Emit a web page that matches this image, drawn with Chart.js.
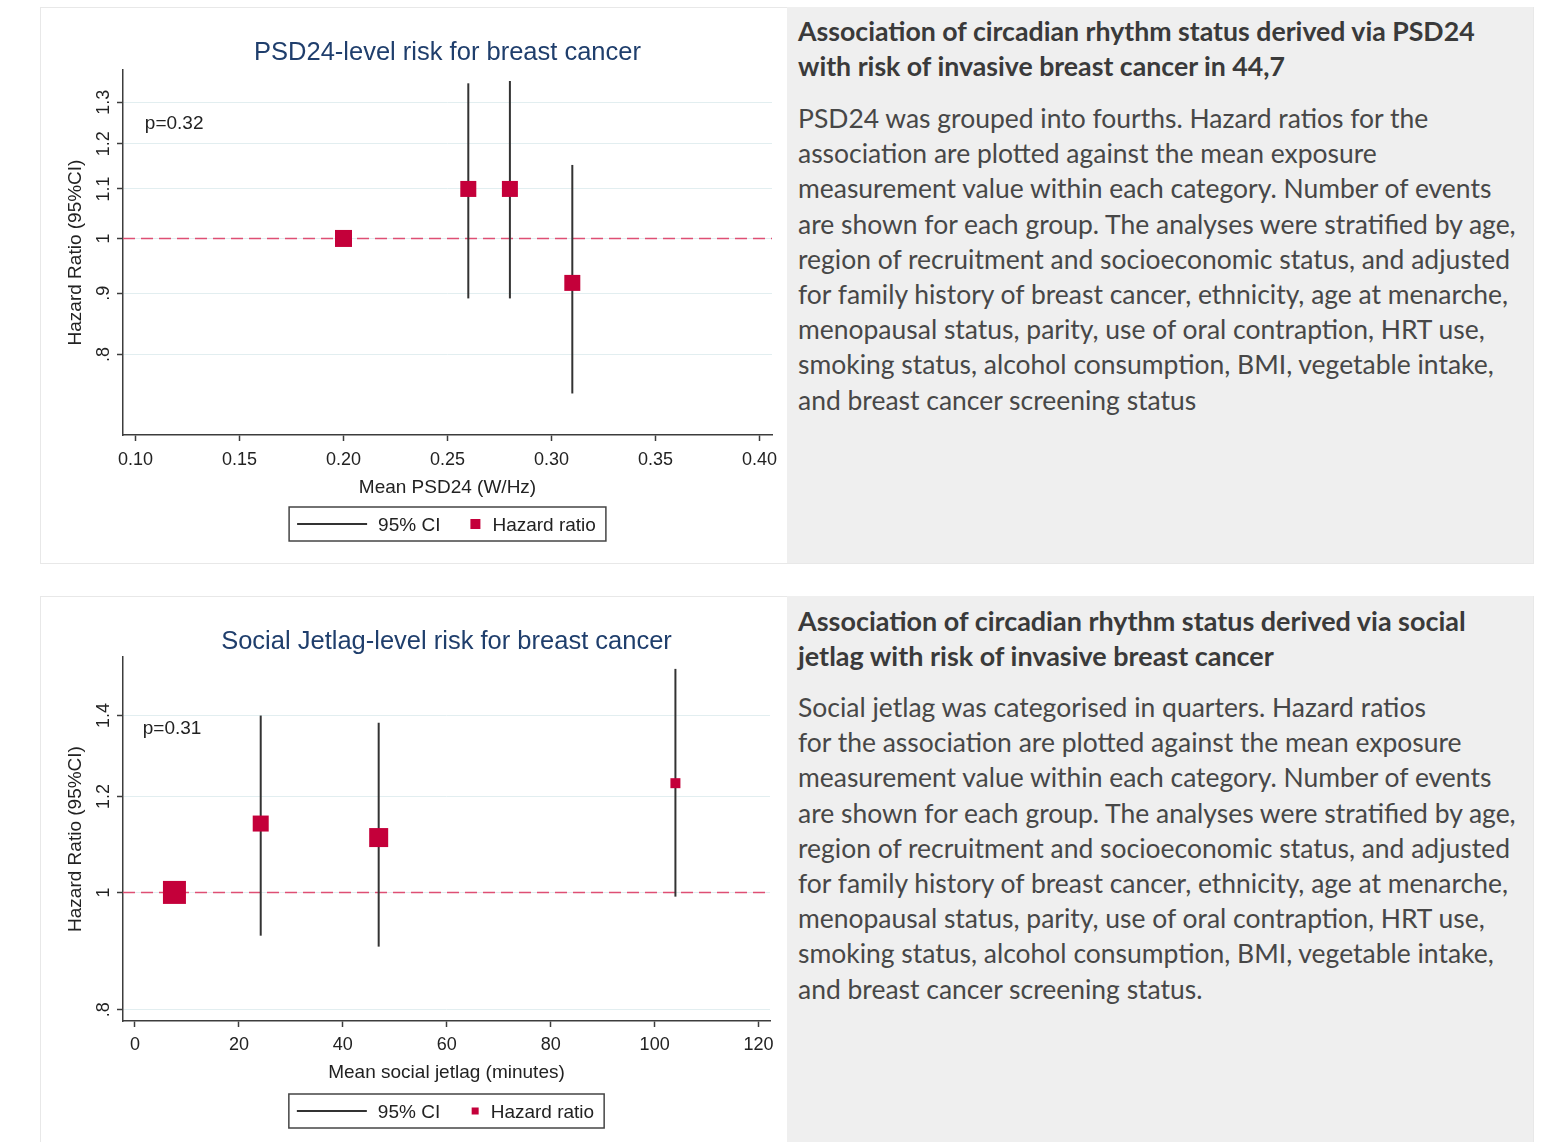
<!DOCTYPE html>
<html>
<head>
<meta charset="utf-8">
<script src="https://cdn.jsdelivr.net/npm/chart.js@4.4.1/dist/chart.umd.min.js"></script>
<style>
  html, body { margin: 0; padding: 0; background: #fff; }
  body { position: relative; width: 1547px; height: 1142px; overflow: hidden; }
  .row { position: absolute; left: 40px; width: 1494px; height: 557px; border: 1px solid #e8e8e8; box-sizing: border-box; }
  .plot { position: absolute; left: 40px; }
  .caption { position: absolute; left: 787px; width: 746px; height: 556px; background: #efefef; color: #474747; font-family: Lato, 'Open Sans', sans-serif; }
  .caption .head { position: absolute; left: 11px; top: 7px; font-weight: bold; line-height: 35px; color: #3a3a3a; white-space: nowrap; font-size: 26px; }
  .caption .body { position: absolute; left: 11px; top: 94px; line-height: 35.2px; white-space: nowrap; font-size: 26px; }
</style>
</head>
<body>

<div class="row" style="top:7px"></div>
<canvas id="psdChart" class="plot" width="747" height="556" style="top:7px"></canvas>
<div class="caption" style="top:7px">
  <div class="head" data-fit="677">
    <span>Association of circadian rhythm status derived via PSD24</span><br>
    <span>with risk of invasive breast cancer in 44,7</span>
  </div>
  <div class="body" data-fit="718">
    <span>PSD24 was grouped into fourths. Hazard ratios for the</span><br>
    <span>association are plotted against the mean exposure</span><br>
    <span>measurement value within each category. Number of events</span><br>
    <span>are shown for each group. The analyses were stratified by age,</span><br>
    <span>region of recruitment and socioeconomic status, and adjusted</span><br>
    <span>for family history of breast cancer, ethnicity, age at menarche,</span><br>
    <span>menopausal status, parity, use of oral contraption, HRT use,</span><br>
    <span>smoking status, alcohol consumption, BMI, vegetable intake,</span><br>
    <span>and breast cancer screening status</span>
  </div>
</div>

<div class="row" style="top:596px"></div>
<canvas id="sjlChart" class="plot" width="747" height="556" style="top:596px"></canvas>
<div class="caption" style="top:596px">
  <div class="head" data-fit="668">
    <span>Association of circadian rhythm status derived via social</span><br>
    <span>jetlag with risk of invasive breast cancer</span>
  </div>
  <div class="body" data-fit="718">
    <span>Social jetlag was categorised in quarters. Hazard ratios</span><br>
    <span>for the association are plotted against the mean exposure</span><br>
    <span>measurement value within each category. Number of events</span><br>
    <span>are shown for each group. The analyses were stratified by age,</span><br>
    <span>region of recruitment and socioeconomic status, and adjusted</span><br>
    <span>for family history of breast cancer, ethnicity, age at menarche,</span><br>
    <span>menopausal status, parity, use of oral contraption, HRT use,</span><br>
    <span>smoking status, alcohol consumption, BMI, vegetable intake,</span><br>
    <span>and breast cancer screening status.</span>
  </div>
</div>

<script>
// --- PSD24 panel ---
const psdX = [0.20, 0.26, 0.28, 0.31];
const psdHR = [1.00, 1.10, 1.10, 0.918];
const psdLow = [null, 0.891, 0.891, 0.742];
const psdHigh = [null, 1.348, 1.354, 1.152];
const psdXTicks = [0.10, 0.15, 0.20, 0.25, 0.30, 0.35, 0.40];
const psdXTickLabels = ['0.10', '0.15', '0.20', '0.25', '0.30', '0.35', '0.40'];
const psdYTicks = [0.8, 0.9, 1, 1.1, 1.2, 1.3];
const psdYTickLabels = ['.8', '.9', '1', '1.1', '1.2', '1.3'];

// --- social jetlag panel ---
const sjlX = [7.6, 24.2, 46.9, 104];
const sjlHR = [1.00, 1.14, 1.11, 1.231];
const sjlLow = [null, 0.921, 0.902, 0.992];
const sjlHigh = [null, 1.40, 1.381, 1.530];
const sjlXTicks = [0, 20, 40, 60, 80, 100, 120];
const sjlXTickLabels = ['0', '20', '40', '60', '80', '100', '120'];
const sjlYTicks = [0.8, 1, 1.2, 1.4];
const sjlYTickLabels = ['.8', '1', '1.2', '1.4'];

const FONT = "'Liberation Sans', Arial, sans-serif";
const RED = '#c4003a';
const REF_RED = '#de4f74';
const AXIS = '#3c3c3c';
const GRID = '#e2eef0';
const TEXT = '#222';

Chart.defaults.font.family = FONT;

// fit caption lines to the widths seen in the reference
document.querySelectorAll('[data-fit]').forEach(block => {
  const target = +block.dataset.fit;
  const base = parseFloat(getComputedStyle(block).fontSize);
  let w = 0;
  block.querySelectorAll('span').forEach(s => { w = Math.max(w, s.getBoundingClientRect().width); });
  block.style.fontSize = (base * target / w) + 'px';
});

// title, rotated y labels, p-value and the boxed legend
function overlayPlugin(s) {
  return {
    id: 'overlay',
    afterDraw(chart) {
      const { ctx, chartArea: a, scales: { x, y } } = chart;
      const cx = (a.left + a.right) / 2;
      ctx.save();
      ctx.textBaseline = 'middle';

      ctx.font = '25.5px ' + FONT;
      ctx.fillStyle = '#1f3e6c';
      ctx.textAlign = 'center';
      ctx.fillText(s.title, cx, s.titleY);

      ctx.font = '18px ' + FONT;
      ctx.fillStyle = TEXT;
      s.yTicks.forEach((v, i) => {
        ctx.save();
        ctx.translate(a.left - 19, y.getPixelForValue(v));
        ctx.rotate(-Math.PI / 2);
        ctx.fillText(s.yTickLabels[i], 0, 0);
        ctx.restore();
      });

      ctx.font = '19px ' + FONT;
      ctx.textAlign = 'left';
      ctx.fillText(s.pText, x.getPixelForValue(s.pAt[0]), y.getPixelForValue(s.pAt[1]) + 2);

      // legend
      const t1 = '95% CI', t2 = 'Hazard ratio';
      const w1 = ctx.measureText(t1).width, w2 = ctx.measureText(t2).width;
      const sq = s.legendSquare;
      const total = 8 + 70 + 11 + w1 + 35 + sq / 2 + 12 + w2 + 10;
      const left = cx - total / 2;
      const ly = s.legendY;
      ctx.strokeStyle = '#444';
      ctx.lineWidth = 1.5;
      ctx.strokeRect(left, ly - 17, total, 34);
      ctx.strokeStyle = '#333';
      ctx.lineWidth = 2;
      ctx.beginPath();
      ctx.moveTo(left + 8, ly);
      ctx.lineTo(left + 78, ly);
      ctx.stroke();
      ctx.fillText(t1, left + 89, ly + 2);
      const sqx = left + 89 + w1 + 35;
      ctx.fillStyle = RED;
      ctx.fillRect(sqx - sq / 2, ly - sq / 2, sq, sq);
      ctx.fillStyle = TEXT;
      ctx.fillText(t2, sqx + sq / 2 + 12, ly + 2);
      ctx.restore();
    }
  };
}

function buildChart(id, s) {
  const datasets = [{
    data: [{ x: s.xMin, y: 1 }, { x: s.xMax, y: 1 }],
    showLine: true, borderColor: REF_RED, borderWidth: 1.5, borderDash: [12, 6],
    pointRadius: 0, order: 3
  }];
  s.x.forEach((xv, i) => {
    if (s.low[i] == null) return;
    datasets.push({
      data: [{ x: xv, y: s.low[i] }, { x: xv, y: s.high[i] }],
      showLine: true, borderColor: '#333', borderWidth: 2, pointRadius: 0, order: 2
    });
  });
  datasets.push({
    data: s.x.map((xv, i) => ({ x: xv, y: s.hr[i] })),
    pointStyle: 'rect',
    pointRadius: s.markerSide.map(v => v / Math.SQRT2),
    backgroundColor: RED, borderColor: RED, borderWidth: 0, order: 1
  });

  return new Chart(document.getElementById(id), {
    type: 'scatter',
    data: { datasets },
    options: {
      responsive: false,
      animation: false,
      devicePixelRatio: 1,
      layout: { padding: { top: s.padTop, right: s.padRight, left: 0, bottom: 0 } },
      plugins: { legend: { display: false }, tooltip: { enabled: false }, title: { display: false } },
      scales: {
        x: {
          type: 'linear', min: s.xMin, max: s.xMax, bounds: 'data',
          afterBuildTicks: ax => { ax.ticks = s.xTicks.map(v => ({ value: v })); },
          afterFit: ax => { ax.height = s.xHeight; },
          ticks: { callback: (v, i) => s.xTickLabels[i], padding: s.xTickPad, color: TEXT, font: { size: 18 }, autoSkip: false, maxRotation: 0 },
          grid: { drawOnChartArea: false, drawTicks: true, tickLength: 6, tickColor: AXIS, tickWidth: 1.5 },
          border: { display: true, color: AXIS, width: 1.5 },
          title: { display: true, text: s.xTitle, color: TEXT, font: { size: 19 }, padding: { top: 0, bottom: s.xTitlePad } }
        },
        y: {
          type: 'logarithmic', min: s.yMin, max: s.yMax, bounds: 'data',
          afterBuildTicks: ax => { ax.ticks = s.yTicks.map(v => ({ value: v })); },
          afterFit: ax => { ax.width = 83; },
          ticks: { display: false },
          grid: { color: GRID, lineWidth: 1, drawTicks: true, tickLength: 6, tickColor: AXIS, tickWidth: 1.5 },
          border: { display: true, color: AXIS, width: 1.5 },
          title: { display: true, text: 'Hazard Ratio (95%CI)', color: TEXT, font: { size: 19 }, padding: { top: 24, bottom: 0 } }
        }
      }
    },
    plugins: [overlayPlugin(s)]
  });
}

buildChart('psdChart', {
  x: psdX, hr: psdHR, low: psdLow, high: psdHigh,
  markerSide: [17, 16, 16, 16],
  xMin: 0.094, xMax: 0.406, yMin: 0.685, yMax: 1.383,
  xTicks: psdXTicks, xTickLabels: psdXTickLabels,
  yTicks: psdYTicks, yTickLabels: psdYTickLabels,
  xTitle: 'Mean PSD24 (W/Hz)',
  title: 'PSD24-level risk for breast cancer', titleY: 46,
  pText: 'p=0.32', pAt: [0.1045, 1.251],
  padTop: 63, padRight: 15, xHeight: 128, xTickPad: 8, xTitlePad: 63.6,
  legendY: 517, legendSquare: 10
});

buildChart('sjlChart', {
  x: sjlX, hr: sjlHR, low: sjlLow, high: sjlHigh,
  markerSide: [23, 16, 19, 10],
  xMin: -2.3, xMax: 122.2, yMin: 0.783, yMax: 1.565,
  xTicks: sjlXTicks, xTickLabels: sjlXTickLabels,
  yTicks: sjlYTicks, yTickLabels: sjlYTickLabels,
  xTitle: 'Mean social jetlag (minutes)',
  title: 'Social Jetlag-level risk for breast cancer', titleY: 46,
  pText: 'p=0.31', pAt: [1.5, 1.37],
  padTop: 61, padRight: 17, xHeight: 131, xTickPad: 7, xTitlePad: 67.6,
  legendY: 515, legendSquare: 7
});
</script>
</body>
</html>
